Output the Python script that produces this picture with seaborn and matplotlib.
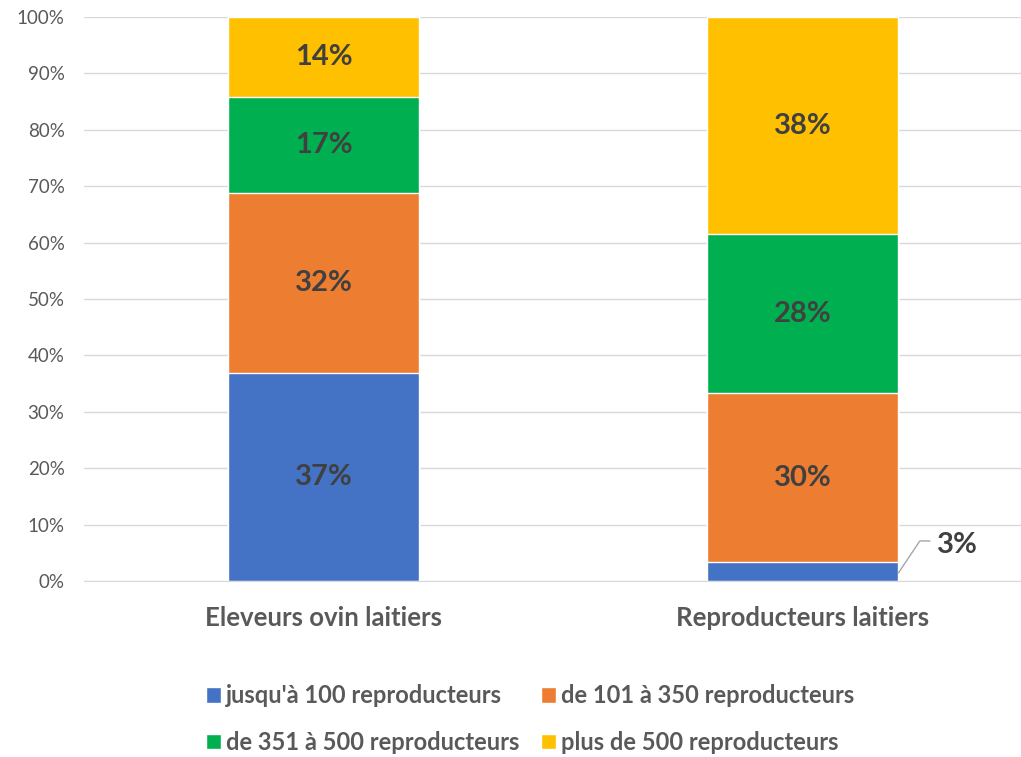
import numpy as np
import pandas as pd
import matplotlib.pyplot as plt
import seaborn as sns
from matplotlib.patches import Patch

groups = ["Eleveurs ovin laitiers", "Reproducteurs laitiers"]
classes = ["jusqu'à 100 reproducteurs", "de 101 à 350 reproducteurs",
           "de 351 à 500 reproducteurs", "plus de 500 reproducteurs"]
eleveurs = [36.9, 31.9, 17.0, 14.2]
reproducteurs = [3.4, 29.9, 28.2, 38.5]
colors = ["#4472c4", "#ed7d31", "#00b050", "#ffc000"]

sns.set_style("white")
plt.rcParams["font.family"] = ["Lato", "DejaVu Sans"]

vals = np.array([eleveurs, reproducteurs])  # rows: groups, cols: classes
cum = vals.cumsum(axis=1)

fig = plt.figure(figsize=(10.21, 7.57), dpi=100)
ax = fig.add_axes([84 / 1021, 1 - 581 / 757, 958 / 1021, 564 / 757])

# stacked bars drawn as overlapping cumulative bars, tallest first
for j in range(len(classes) - 1, -1, -1):
    df = pd.DataFrame({"groupe": groups, "cumul": cum[:, j]})
    sns.barplot(data=df, x="groupe", y="cumul", color=colors[j], width=0.4,
                saturation=1, ax=ax, zorder=2)

for i in range(len(groups)):
    for j in range(len(classes)):
        v = vals[i, j]
        if v < 5:
            continue
        ax.text(i, cum[i, j] - v / 2, f"{v:.0f}%", ha="center", va="center",
                fontsize=21, fontweight="bold", color="#404040", zorder=3)

# small segment label with leader line
small = vals[1, 0]
ax.plot([1.2, 1.245, 1.266], [small / 2 - 0.3, 7.1, 7.1], color="#a6a6a6", lw=1, zorder=3)
ax.text(1.28, 6.4, f"{small:.0f}%", ha="left", va="center",
        fontsize=21, fontweight="bold", color="#404040")

ax.set_xlim(-0.5, 1.5)
ax.set_ylim(0, 100)
ax.set_yticks(np.arange(0, 101, 10))
ax.set_yticklabels([f"{t}%" for t in range(0, 101, 10)], fontsize=13.5, color="#595959")
ax.set_xticks([0, 1])
ax.set_xticklabels(groups, fontsize=18.5, fontweight="bold", color="#595959")
ax.tick_params(axis="x", length=0, pad=18)
ax.tick_params(axis="y", length=0, pad=14)
ax.set_xlabel("")
ax.set_ylabel("")
ax.yaxis.grid(True, color="#d9d9d9", lw=1, zorder=0)
ax.set_axisbelow(True)
for s in ["top", "right", "left"]:
    ax.spines[s].set_visible(False)
ax.spines["bottom"].set_color("#d9d9d9")

# legend filled row by row like the reference
handles = [Patch(facecolor=c, label=l) for c, l in zip(colors, classes)]
order = [0, 2, 1, 3]
leg = fig.legend(handles=[handles[k] for k in order], ncol=2, loc="center",
                 bbox_to_anchor=(530 / 1021, 1 - 719 / 757),
                 frameon=False, handlelength=0.64, handleheight=0.64, handletextpad=0.2,
                 columnspacing=0.9, labelspacing=1.0,
                 prop={"size": 17, "weight": "bold"})
for t in leg.get_texts():
    t.set_color("#595959")

fig.savefig("out.png", dpi=100)
